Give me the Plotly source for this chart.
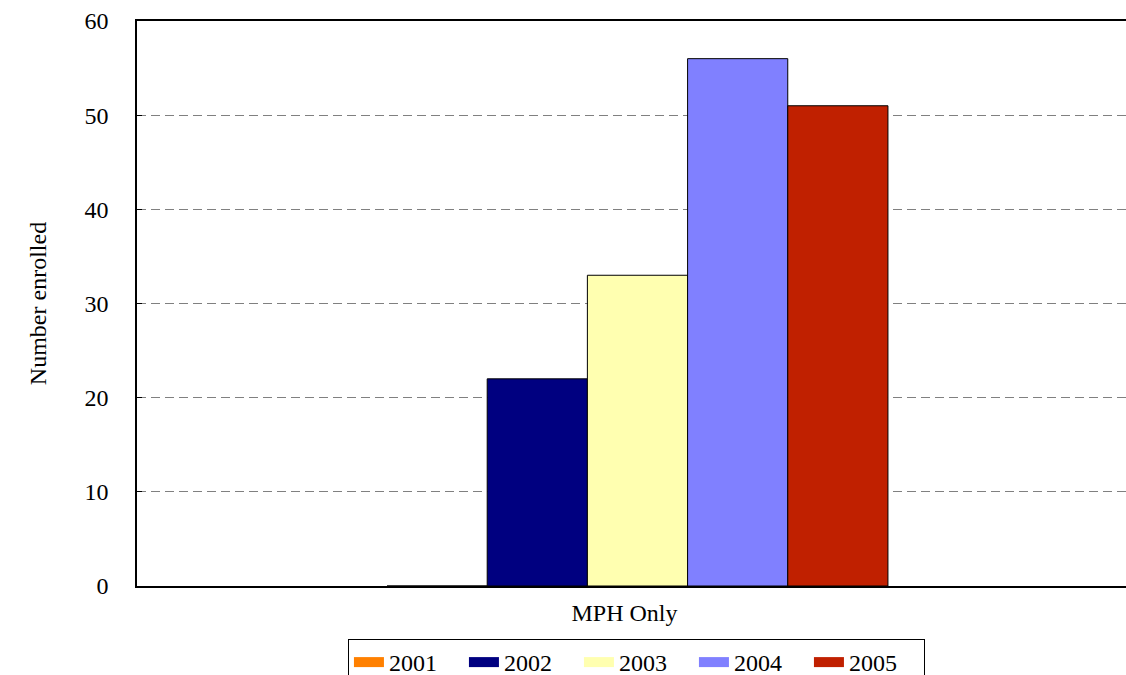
import plotly.graph_objects as go

categories = ["MPH Only"]
years = ["2001", "2002", "2003", "2004", "2005"]
values = [0, 22, 33, 56, 51]
colors = ["#FF8000", "#000080", "#FFFFB0", "#8080FF", "#C02000"]

BAR_W = 0.1013
FIRST_OFF = -0.2401

fig = go.Figure()
for i, (yr, v, c) in enumerate(zip(years, values, colors)):
    fig.add_trace(go.Bar(
        x=categories, y=[v], name=yr, showlegend=False,
        width=BAR_W, offset=FIRST_OFF + i * BAR_W,
        marker=dict(color=c, line=dict(color="black", width=1)),
    ))
# legend entries (wide rectangular swatches like the original)
for yr, c in zip(years, colors):
    fig.add_trace(go.Scatter(
        x=[None], y=[None], name=yr, mode="lines",
        line=dict(color=c, width=16), showlegend=True,
    ))

font = "Liberation Serif, Times New Roman, serif"
fig.update_layout(
    width=1126, height=675,
    margin=dict(l=137, r=0, t=21, b=89, autoexpand=False),
    plot_bgcolor="white", paper_bgcolor="white",
    barmode="overlay",
    font=dict(family=font, size=24, color="black"),
    showlegend=True,
    legend=dict(
        orientation="h", x=0.505, xanchor="center", y=-0.0938, yanchor="top",
        bordercolor="black", borderwidth=1, bgcolor="white",
        font=dict(family=font, size=24), itemwidth=30, tracegroupgap=0,
        entrywidth=70, entrywidthmode="pixels",
    ),
    xaxis=dict(
        range=[-0.4929, 0.5071],
        showline=True, linecolor="black", linewidth=1.5, mirror=True,
        ticks="", showgrid=False, tickfont=dict(size=24), ticklabelstandoff=4,
    ),
    yaxis=dict(
        range=[0, 60], dtick=10, showline=True, linecolor="black", linewidth=1.5,
        showgrid=True, gridcolor="#808080", griddash="9px,5px", gridwidth=1,
        ticks="inside", ticklen=5, tickcolor="black", ticklabelstandoff=22,
        tickfont=dict(size=24), zeroline=False,
        title=dict(text="Number enrolled", font=dict(size=24), standoff=31),
    ),
)
fig.write_html(
    "out.html",
    config={"displayModeBar": False},
    post_script="document.body.style.margin='0';document.body.style.overflow='hidden';",
)
